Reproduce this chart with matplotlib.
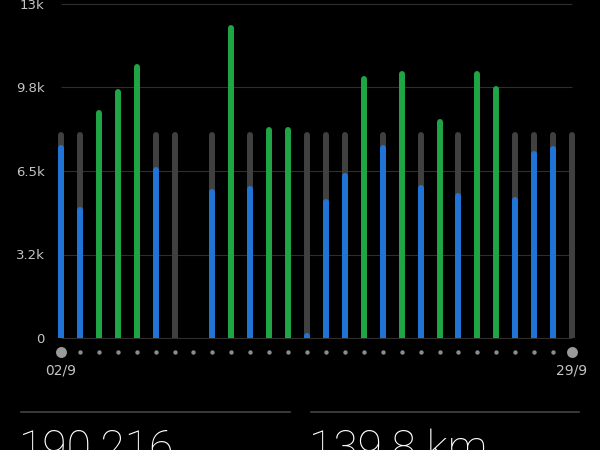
import numpy as np
import matplotlib
matplotlib.use('Agg')
import matplotlib.pyplot as plt
from matplotlib.transforms import blended_transform_factory

# daily step counts, 02/9 .. 29/9 (nan = no data)
steps = [7510, 5100, 8870, 9690, 10660, 6650, 50, np.nan, 5800, 12180,
         5920, 8210, 8210, 200, 5410, 6420, 10200, 7510, 10390, 5950,
         8540, 5640, 10400, 9820, 5500, 7280, 7470, 60]
goal = [8000] * 7 + [np.nan] + [8000] * 20
first_label = '02/9'
last_label = '29/9'
yticks = [0, 3250, 6500, 9750, 13000]
ytick_labels = ['0', '3.2k', '6.5k', '9.8k', '13k']
total_steps = '190.216'
total_dist = '139.8 km'

BLUE = '#1f74d6'
GREEN = '#1fa546'
GOAL = '#404040'
GRID = '#2e2e2e'
TEXT = '#c4c4c4'

fig = plt.figure(figsize=(6, 4.5), dpi=100, facecolor='black')
ax = fig.add_axes([51.5 / 600, 1 - 338 / 450, 530 / 600, 334 / 450])
ax.set_facecolor('black')
n = len(steps)
x = np.arange(n)
ax.set_xlim(-0.5, n - 0.5)
ax.set_ylim(0, 13000)

# grid lines
ax.hlines(yticks, 0, n - 1, color=GRID, lw=0.8, zorder=0, clip_on=False)

lw = 4.3
# round cap sticks out by half the line width, pull ends down by that much
cap = (lw / 2 * fig.dpi / 72) * 13000 / (ax.bbox.height)

for i in range(n):
    g = goal[i]
    v = steps[i]
    if not np.isnan(g) and (np.isnan(v) or v < g):
        ax.plot([i, i], [0, g - cap], color=GOAL, lw=lw,
                solid_capstyle='round', zorder=1)
    if np.isnan(v):
        continue
    col = GREEN if (not np.isnan(g) and v >= g) else BLUE
    ax.plot([i, i], [0, max(v - cap, 1)], color=col, lw=lw,
            solid_capstyle='round', zorder=2)

ax.set_yticks(yticks)
ax.set_yticklabels(ytick_labels)
ax.tick_params(axis='y', length=0, pad=5, labelcolor=TEXT, labelsize=9.5)
ax.set_xticks([])
for s in ax.spines.values():
    s.set_visible(False)

# day dots under the chart
tr = blended_transform_factory(ax.transData, ax.transAxes)
ax.scatter(x[1:-1], np.full(n - 2, -0.042), s=10, color='#8c8c8c',
           transform=tr, clip_on=False, linewidths=0)
ax.scatter([x[0], x[-1]], [-0.042, -0.042], s=62, color='#9a9a9a',
           transform=tr, clip_on=False, linewidths=0)
ax.text(x[0], -0.097, first_label, transform=tr, ha='center', va='center',
        color=TEXT, fontsize=10)
ax.text(x[-1], -0.097, last_label, transform=tr, ha='center', va='center',
        color=TEXT, fontsize=10)

# summary section
fig.add_artist(plt.Line2D([21 / 600, 290 / 600], [1 - 411.5 / 450] * 2,
                          color='#444444', lw=1.2))
fig.add_artist(plt.Line2D([311 / 600, 579 / 600], [1 - 411.5 / 450] * 2,
                          color='#444444', lw=1.2))
fig.text(19 / 600, 1 - 428 / 450, total_steps, color='white', fontsize=32,
         family='Roboto', fontweight='light', va='top', ha='left')
fig.text(309 / 600, 1 - 428 / 450, total_dist, color='white', fontsize=32,
         family='Roboto', fontweight='light', va='top', ha='left')

fig.savefig('out.png', dpi=100, facecolor='black')
